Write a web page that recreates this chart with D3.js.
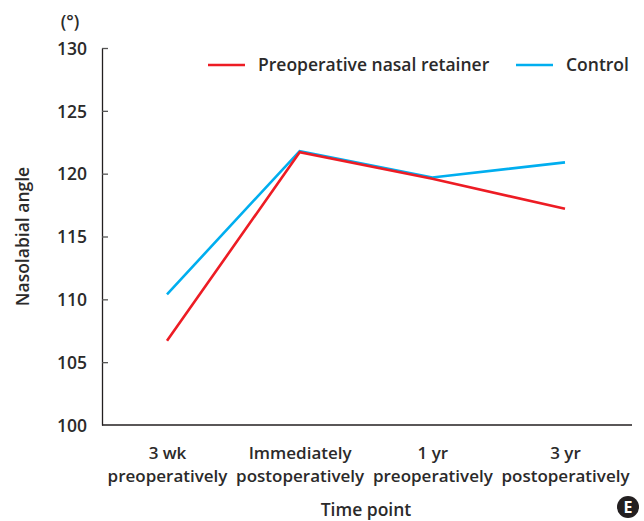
<!DOCTYPE html>
<html>
<head>
<meta charset="utf-8">
<script src="https://cdn.jsdelivr.net/npm/d3@7"></script>
<style>
  body { margin: 0; background: #fff; }
  text { font-family: "Open Sans", "Liberation Sans", Arial, sans-serif; font-weight: 600; fill: #2b2a2a; }
</style>
</head>
<body>
<div id="chart"></div>
<script>
// categories and series
var timePoints = ["3 wk|preoperatively", "Immediately|postoperatively", "1 yr|preoperatively", "3 yr|postoperatively"];
var retainer = [106.7, 121.7, 119.6, 117.2];
var control = [110.4, 121.8, 119.7, 120.9];
var yTicks = [100, 105, 110, 115, 120, 125, 130];
var seriesNames = ["Preoperative nasal retainer", "Control"];
var seriesColors = ["#ed1c24", "#00aeef"];

var W = 644, H = 521;
var margin = {top: 48, right: 12, bottom: 96, left: 102},
    width = W - margin.left - margin.right,
    height = H - margin.top - margin.bottom;
var fs = "17.5px";

var svg = d3.select("#chart").append("svg")
    .attr("width", W)
    .attr("height", H);
var g = svg.append("g")
    .attr("transform", "translate(" + margin.left + "," + margin.top + ")");

// scales
var x = d3.scalePoint()
  .domain(timePoints)
  .range([65, 463]);
var y = d3.scaleLinear()
  .domain([100, 130])
  .range([height, 0]);

// Y axis, ticks pointing inward
var yAxis = g.append("g")
  .call(d3.axisRight(y).tickValues(yTicks).tickSize(6).tickSizeOuter(0));
yAxis.attr("font-family", null).attr("font-size", null);
yAxis.select(".domain").attr("stroke", "#231f20").attr("stroke-width", 1.3);
yAxis.selectAll(".tick line").attr("stroke", "#555").attr("stroke-width", 1.3);
yAxis.selectAll(".tick text")
  .attr("x", -15)
  .attr("text-anchor", "end")
  .attr("dy", "0.36em")
  .style("font-size", fs)
  .attr("fill", null);
yAxis.selectAll(".tick").filter(function(d) { return d === 100; }).select("line").remove();

// X axis
var xAxis = g.append("g")
  .attr("transform", "translate(0," + height + ")")
  .call(d3.axisBottom(x).tickSize(0).tickSizeOuter(0).tickFormat(""));
xAxis.attr("font-family", null).attr("font-size", null);
xAxis.select(".domain").attr("stroke", "#231f20").attr("stroke-width", 1.3)
  .attr("d", "M0,0H" + width);
xAxis.selectAll(".tick").each(function(d) {
  var parts = d.split("|");
  var t = d3.select(this).append("text")
    .attr("text-anchor", "middle")
    .style("font-size", "17px");
  t.append("tspan").attr("x", 0).attr("y", 34).text(parts[0]);
  t.append("tspan").attr("x", 0).attr("y", 57).text(parts[1]);
});

// axis titles
svg.append("text")
  .attr("x", 70).attr("y", 28)
  .attr("text-anchor", "middle")
  .style("font-size", fs)
  .text("(°)");
svg.append("text")
  .attr("transform", "translate(29," + (margin.top + height / 2) + ") rotate(-90)")
  .attr("text-anchor", "middle")
  .style("font-size", fs)
  .text("Nasolabial angle");
svg.append("text")
  .attr("x", margin.left + 264).attr("y", 516)
  .attr("text-anchor", "middle")
  .style("font-size", fs)
  .text("Time point");

// lines
var line = d3.line()
  .x(function(d, i) { return x(timePoints[i]); })
  .y(function(d) { return y(d); });

g.append("path").datum(control)
  .attr("fill", "none")
  .attr("stroke", seriesColors[1])
  .attr("stroke-width", 2.6)
  .attr("d", line);
g.append("path").datum(retainer)
  .attr("fill", "none")
  .attr("stroke", seriesColors[0])
  .attr("stroke-width", 2.6)
  .attr("d", line);

// legend
var legendX = [208, 516];
seriesNames.forEach(function(name, i) {
  var lg = svg.append("g").attr("transform", "translate(" + legendX[i] + ",65)");
  lg.append("line")
    .attr("x1", 0).attr("x2", 37)
    .attr("stroke", seriesColors[i]).attr("stroke-width", 2.6);
  lg.append("text")
    .attr("x", 50).attr("dy", "0.36em")
    .style("font-size", fs)
    .text(name);
});

// panel badge
var badge = svg.append("g").attr("transform", "translate(628,507)");
badge.append("circle").attr("r", 11).attr("fill", "#231f20");
badge.append("text")
  .attr("text-anchor", "middle").attr("dy", "0.36em")
  .style("font-size", "16px").style("font-weight", "bold")
  .style("fill", "#fff")
  .text("E");
</script>
</body>
</html>
